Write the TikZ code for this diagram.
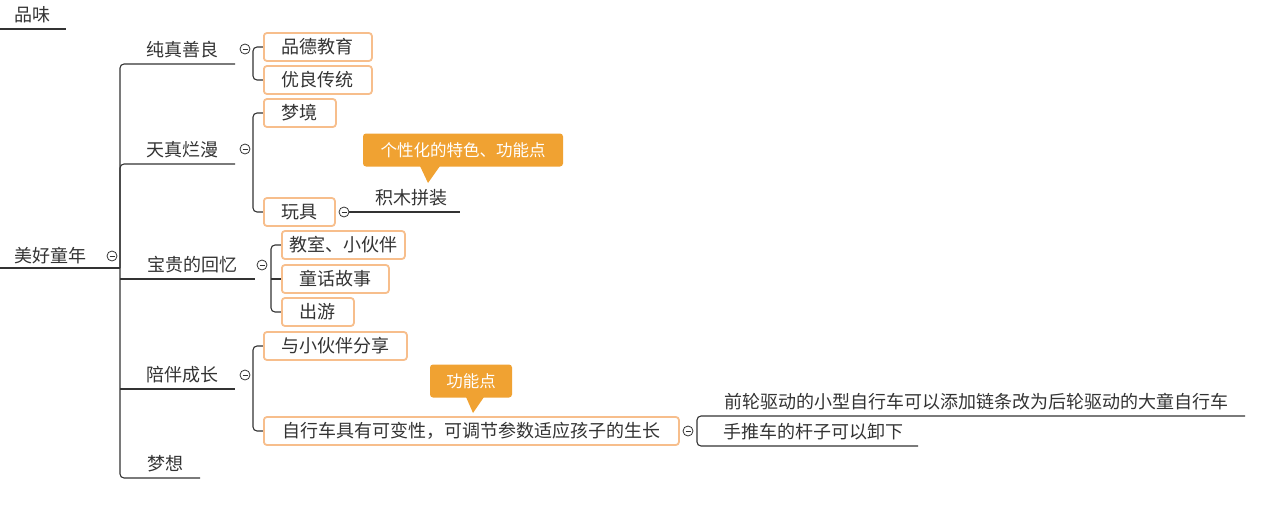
\documentclass[tikz,border=0pt]{standalone}
\usepackage{fontspec}
\setmainfont{Noto Sans CJK SC}
\usetikzlibrary{calc}
\definecolor{txt}{HTML}{333333}
\definecolor{bx}{HTML}{F7BE8C}
\definecolor{co}{HTML}{F0A232}
\tikzset{
 lbl/.style={text=txt,font=\fontsize{18}{20}\selectfont,inner sep=0},
 box/.style={draw=bx,line width=1.8pt,rounded corners=3pt,fill=white,text=txt,font=\fontsize{18}{20}\selectfont,anchor=west,minimum height=28pt,inner xsep=0},
 callout/.style={fill=co,rounded corners=3pt,text=white,font=\fontsize{16.5}{18}\selectfont,minimum height=33pt,inner xsep=0},
 ln/.style={draw=txt,line width=1.1pt},
 col/.style={circle,draw=txt,line width=0.8pt,minimum size=10pt,inner sep=0,fill=white,
   path picture={\draw[txt,line width=0.8pt] ([xshift=-2.5pt]path picture bounding box.center) -- ([xshift=2.5pt]path picture bounding box.center);}},
}
\begin{document}
\begin{tikzpicture}[x=1pt,y=-1pt]
\useasboundingbox (0,0) rectangle (1280,511);
\node[lbl] (pw) at (32,15) {品味};
\draw[ln] (0,29) -- (66,29);
\node[lbl] (root) at (50,256) {美好童年};
\draw[ln] (0,268) -- (120,268);
\node[col] (rc) at (112,256) {};
\draw[ln,rounded corners=4pt] (120,268) -- (120,64) -- (235,64);
\draw[ln,rounded corners=4pt] (120,268) -- (120,478) -- (200,478);
\draw[ln,rounded corners=4pt] (120,268) -- (120,164) -- (235,164);
\draw[ln] (120,279) -- (255,279);
\draw[ln] (120,389) -- (235,389);
\node[lbl] (a) at (182,50) {纯真善良};
\node[lbl] (b) at (182,150) {天真烂漫};
\node[lbl] (c) at (192,265) {宝贵的回忆};
\node[lbl] (d) at (182,375) {陪伴成长};
\node[lbl] (e) at (165,464) {梦想};
\node[col] (ac) at (245,49) {};
\node[col] (bc) at (245,149) {};
\node[col] (cc) at (262,265) {};
\node[col] (dc) at (245,375) {};
\draw[ln,rounded corners=4pt] (263,47) -- (253,47) -- (253,80) -- (263,80);
\draw[ln,rounded corners=4pt] (263,113) -- (253,113) -- (253,212) -- (263,212);
\draw[ln,rounded corners=4pt] (281,245) -- (271,245) -- (271,312) -- (281,312);
\draw[ln] (271,279) -- (281,279);
\draw[ln,rounded corners=4pt] (263,346) -- (253,346) -- (253,431) -- (263,431);
\node[box,minimum width=108pt] (a1) at (263,47) {品德教育};
\node[box,minimum width=108pt] (a2) at (263,80) {优良传统};
\node[box,minimum width=72pt] (b1) at (263,113) {梦境};
\node[box,minimum width=71pt] (b2) at (263,212) {玩具};
\node[box,minimum width=123pt] (c1) at (281,245) {教室、小伙伴};
\node[box,minimum width=107pt] (c2) at (281,279) {童话故事};
\node[box,minimum width=72pt] (c3) at (281,312) {出游};
\node[box,minimum width=143pt] (d1) at (263,346) {与小伙伴分享};
\node[box,minimum width=415pt] (d2) at (263,431) {自行车具有可变性，可调节参数适应孩子的生长};
\node[col] (b2c) at (344,212) {};
\draw[ln] (b2c) -- (460,212);
\node[lbl] (jm) at (411,198) {积木拼装};
\node[col] (d2c) at (688,431) {};
\draw[ln,rounded corners=4pt] (1245,416) -- (697,416) -- (697,446) -- (918,446);
\node[lbl] (f1) at (976,402) {前轮驱动的小型自行车可以添加链条改为后轮驱动的大童自行车};
\node[lbl] (f2) at (813,432) {手推车的杆子可以卸下};
\node[callout,minimum width=200pt] (k1) at (463,150) {个性化的特色、功能点};
\fill[co] (420,166) -- (428,183) -- (440,166) -- cycle;
\node[callout,minimum width=82pt] (k2) at (471,381) {功能点};
\fill[co] (466,397) -- (473,413) -- (484,397) -- cycle;
\end{tikzpicture}
\end{document}
